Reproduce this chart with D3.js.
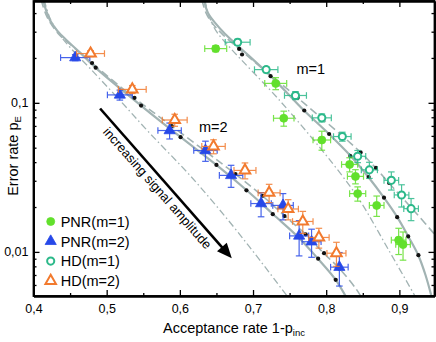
<!DOCTYPE html>
<html>
<head>
<meta charset="utf-8">
<script src="https://cdn.jsdelivr.net/npm/d3@7"></script>
<style>
  body { margin: 0; background: #fff; }
  svg { display: block; font-family: "Liberation Sans", Arial, sans-serif; }
  .axis path, .axis line { stroke: #000; }
  .axis text { font-size: 12.5px; fill: #000; }
</style>
</head>
<body>
<div id="chart"></div>
<script>
var svgWidth = 436;
var svgHeight = 342;

var margin = { top: 1, right: 1.5, bottom: 46, left: 33.5 };
var width = svgWidth - margin.left - margin.right;
var height = svgHeight - margin.top - margin.bottom;

// axis ticks
var xTicks = [0.4, 0.5, 0.6, 0.7, 0.8, 0.9];
var xTickLabels = ["0,4", "0,5", "0,6", "0,7", "0,8", "0,9"];
var xMinor = [0.45, 0.55, 0.65, 0.75, 0.85];
var yTicks = [0.01, 0.1];
var yTickLabels = ["0,01", "0,1"];
var yMinor = [0.006, 0.007, 0.008, 0.009, 0.02, 0.03, 0.04, 0.05, 0.06, 0.07, 0.08, 0.09, 0.2, 0.3, 0.4];

// PNR(m=1)
var pnr1X = [0.649, 0.731, 0.742, 0.794, 0.832, 0.840, 0.843, 0.869, 0.899, 0.905];
var pnr1Y = [0.231, 0.135, 0.0788, 0.0563, 0.0386, 0.0321, 0.0246, 0.0205, 0.0120, 0.0112];
var pnr1Xerr = [0.015, 0.015, 0.014, 0.012, 0.011, 0.011, 0.011, 0.010, 0.010, 0.010];
var pnr1Yerr = [0.0107, 0.0125, 0.0091, 0.0082, 0.0042, 0.0035, 0.0027, 0.0032, 0.0024, 0.0024];

// PNR(m=2)
var pnr2X = [0.457, 0.518, 0.586, 0.635, 0.670, 0.711, 0.741, 0.763, 0.780, 0.818];
var pnr2Y = [0.201, 0.113, 0.0652, 0.0479, 0.0326, 0.0211, 0.0205, 0.0128, 0.0117, 0.0079];
var pnr2Xerr = [0.020, 0.017, 0.016, 0.016, 0.016, 0.014, 0.014, 0.013, 0.013, 0.012];
var pnr2Yerr = [0.0093, 0.0087, 0.0080, 0.0074, 0.0055, 0.0039, 0.0041, 0.0034, 0.0025, 0.0020];

// HD(m=1)
var hd1X = [0.679, 0.718, 0.758, 0.794, 0.822, 0.843, 0.859, 0.889, 0.903, 0.916];
var hd1Y = [0.255, 0.167, 0.112, 0.0793, 0.0594, 0.0438, 0.0355, 0.0302, 0.0241, 0.0195];
var hd1Xerr = [0.017, 0.016, 0.015, 0.013, 0.012, 0.011, 0.011, 0.010, 0.010, 0.010];
var hd1Yerr = [0.0118, 0.0077, 0.0069, 0.0049, 0.0041, 0.0041, 0.0044, 0.0042, 0.0041, 0.0033];

// HD(m=2)
var hd2X = [0.478, 0.535, 0.593, 0.646, 0.689, 0.722, 0.748, 0.768, 0.790, 0.814];
var hd2Y = [0.214, 0.123, 0.0767, 0.0510, 0.0352, 0.0249, 0.0194, 0.0160, 0.0125, 0.0098];
var hd2Xerr = [0.019, 0.019, 0.017, 0.016, 0.015, 0.015, 0.014, 0.014, 0.014, 0.013];
var hd2Yerr = [0.0099, 0.0076, 0.0071, 0.0055, 0.0043, 0.0035, 0.0030, 0.0027, 0.0019, 0.0018];

// theory points (black dots)
var dots2X = [0.480, 0.485, 0.538, 0.547, 0.589, 0.601, 0.650, 0.676, 0.691, 0.713, 0.727, 0.743, 0.762, 0.772, 0.789, 0.797, 0.813, 0.818];
var dots2Y = [0.185, 0.172, 0.108, 0.0959, 0.0699, 0.0588, 0.0383, 0.0333, 0.0259, 0.0238, 0.0179, 0.0174, 0.0126, 0.0131, 0.0090, 0.0098, 0.0065, 0.0077];
var dots1X = [0.681, 0.685, 0.724, 0.761, 0.770, 0.804, 0.833, 0.847, 0.858, 0.868, 0.879, 0.886, 0.897, 0.912, 0.926];
var dots1Y = [0.230, 0.211, 0.151, 0.108, 0.0888, 0.0618, 0.0440, 0.0465, 0.0318, 0.0366, 0.0231, 0.0290, 0.0171, 0.0127, 0.0095];

// theory curves
var m2SolidX = [0.4132, 0.4173, 0.4228, 0.4324, 0.4460, 0.4637, 0.4851, 0.5469, 0.6012, 0.6499, 0.6913, 0.7274, 0.7615, 0.7888, 0.8130, 0.8290];
var m2SolidY = [0.49, 0.415, 0.356, 0.305, 0.261, 0.217, 0.1715, 0.0959, 0.0588, 0.0383, 0.0259, 0.0179, 0.0126, 0.0090, 0.0065, 0.0048];
var m2DashX = [0.4105, 0.4160, 0.4228, 0.4365, 0.4570, 0.4797, 0.5377, 0.5888, 0.6759, 0.7127, 0.7434, 0.7720, 0.7966, 0.8184, 0.8402, 0.8500];
var m2DashY = [0.49, 0.4025, 0.345, 0.282, 0.231, 0.185, 0.108, 0.0699, 0.0333, 0.0238, 0.0174, 0.0131, 0.0098, 0.0077, 0.0057, 0.0048];
var m2DotX = [0.4146, 0.4228, 0.4337, 0.4501, 0.4774, 0.5183, 0.5592, 0.6138, 0.6684, 0.7093, 0.7500];
var m2DotY = [0.49, 0.367, 0.296, 0.235, 0.170, 0.1036, 0.0623, 0.0326, 0.0158, 0.0088, 0.0048];
var m1SolidX = [0.6329, 0.6383, 0.6479, 0.6615, 0.6820, 0.7243, 0.7697, 0.8038, 0.8334, 0.8576, 0.8789, 0.8971, 0.9121, 0.9258, 0.9357, 0.9450];
var m1SolidY = [0.49, 0.4025, 0.345, 0.291, 0.235, 0.151, 0.0888, 0.0618, 0.0440, 0.0318, 0.0231, 0.0171, 0.0127, 0.0095, 0.0070, 0.0048];
var m1DashX = [0.6301, 0.6356, 0.6438, 0.6574, 0.6810, 0.7611, 0.8471, 0.8675, 0.8857, 0.9221, 0.9550];
var m1DashY = [0.49, 0.4025, 0.345, 0.291, 0.230, 0.108, 0.0465, 0.0366, 0.0290, 0.0184, 0.0120];
var m1DotX = [0.6343, 0.6397, 0.6493, 0.6684, 0.7365, 0.8088, 0.8457, 0.8853, 0.9240];
var m1DotY = [0.49, 0.384, 0.305, 0.235, 0.1036, 0.0392, 0.0222, 0.0103, 0.0048];

var svg = d3.select("#chart")
  .append("svg")
  .attr("width", svgWidth)
  .attr("height", svgHeight);

var chartGroup = svg.append("g")
  .attr("transform", `translate(${margin.left}, ${margin.top})`);

var xScale = d3.scaleLinear()
  .domain([0.4, 0.948])
  .range([0, width]);

var yScale = d3.scaleLog()
  .domain([0.00506, 0.482])
  .range([height, 0]);

chartGroup.append("clipPath")
  .attr("id", "clip")
  .append("rect")
  .attr("width", width)
  .attr("height", height);

// curves
var curveColor = "#a2b3b3";
var line = d3.line()
  .x(d => xScale(d[0]))
  .y(d => yScale(d[1]))
  .curve(d3.curveCatmullRom);

var curves = [
  { x: m2DotX, y: m2DotY, w: 1.3, dash: "7,3,1.5,3" },
  { x: m2DashX, y: m2DashY, w: 1.6, dash: "8,4" },
  { x: m2SolidX, y: m2SolidY, w: 2.2, dash: null },
  { x: m1DotX, y: m1DotY, w: 1.3, dash: "7,3,1.5,3" },
  { x: m1DashX, y: m1DashY, w: 1.6, dash: "8,4" },
  { x: m1SolidX, y: m1SolidY, w: 2.2, dash: null }
];

var curveGroup = chartGroup.append("g").attr("clip-path", "url(#clip)");
curves.forEach(function(c) {
  curveGroup.append("path")
    .datum(c.x.map((v, i) => [v, c.y[i]]))
    .attr("d", line)
    .attr("fill", "none")
    .attr("stroke", curveColor)
    .attr("stroke-width", c.w)
    .attr("stroke-dasharray", c.dash);
});

// black theory dots
[[dots2X, dots2Y], [dots1X, dots1Y]].forEach(function(s) {
  chartGroup.append("g")
    .selectAll("circle")
    .data(s[0].map((v, i) => [v, s[1][i]]))
    .enter()
    .append("circle")
    .attr("cx", d => xScale(d[0]))
    .attr("cy", d => yScale(d[1]))
    .attr("r", 2.1)
    .attr("fill", "#111");
});

// measured series
var series = [
  { x: pnr1X, y: pnr1Y, xe: pnr1Xerr, ye: pnr1Yerr, color: "#62e02c", shape: "circle", open: false, name: "PNR(m=1)" },
  { x: pnr2X, y: pnr2Y, xe: pnr2Xerr, ye: pnr2Yerr, color: "#2648e8", shape: "triangle", open: false, name: "PNR(m=2)" },
  { x: hd1X, y: hd1Y, xe: hd1Xerr, ye: hd1Yerr, color: "#2cb98a", shape: "circle", open: true, name: "HD(m=1)" },
  { x: hd2X, y: hd2Y, xe: hd2Xerr, ye: hd2Yerr, color: "#f27a2e", shape: "triangle", open: true, name: "HD(m=2)" }
];

function symbolPath(s) {
  var type = s.shape === "circle" ? d3.symbolCircle : d3.symbolTriangle;
  var size = s.shape === "circle" ? (s.open ? 40 : 50) : (s.open ? 48 : 54);
  return d3.symbol().type(type).size(size)();
}

series.forEach(function(s) {
  var pts = s.x.map((v, i) => ({ x: v, y: s.y[i], xe: s.xe[i], ye: s.ye[i] }));
  var g = chartGroup.append("g");
  var cap = 3.3;

  var bars = g.selectAll("g.err")
    .data(pts)
    .enter()
    .append("g")
    .attr("stroke", s.color)
    .attr("stroke-width", 1.2)
    .attr("opacity", 0.85);

  // horizontal bars
  bars.append("line")
    .attr("x1", d => xScale(d.x - d.xe))
    .attr("x2", d => xScale(d.x + d.xe))
    .attr("y1", d => yScale(d.y))
    .attr("y2", d => yScale(d.y));
  bars.append("line")
    .attr("x1", d => xScale(d.x - d.xe))
    .attr("x2", d => xScale(d.x - d.xe))
    .attr("y1", d => yScale(d.y) - cap)
    .attr("y2", d => yScale(d.y) + cap);
  bars.append("line")
    .attr("x1", d => xScale(d.x + d.xe))
    .attr("x2", d => xScale(d.x + d.xe))
    .attr("y1", d => yScale(d.y) - cap)
    .attr("y2", d => yScale(d.y) + cap);

  // vertical bars
  bars.append("line")
    .attr("x1", d => xScale(d.x))
    .attr("x2", d => xScale(d.x))
    .attr("y1", d => yScale(d.y + d.ye))
    .attr("y2", d => yScale(d.y - d.ye));
  bars.append("line")
    .attr("x1", d => xScale(d.x) - cap)
    .attr("x2", d => xScale(d.x) + cap)
    .attr("y1", d => yScale(d.y + d.ye))
    .attr("y2", d => yScale(d.y + d.ye));
  bars.append("line")
    .attr("x1", d => xScale(d.x) - cap)
    .attr("x2", d => xScale(d.x) + cap)
    .attr("y1", d => yScale(d.y - d.ye))
    .attr("y2", d => yScale(d.y - d.ye));

  g.selectAll("path.mark")
    .data(pts)
    .enter()
    .append("path")
    .attr("d", symbolPath(s))
    .attr("transform", d => `translate(${xScale(d.x)}, ${yScale(d.y)})`)
    .attr("fill", s.open ? "#fff" : s.color)
    .attr("stroke", s.color)
    .attr("stroke-width", s.open ? 2 : 0.8);
});

// axes
var xAxis = d3.axisBottom(xScale).tickValues(xTicks)
  .tickFormat((d, i) => xTickLabels[i]).tickSizeInner(-6).tickSizeOuter(0).tickPadding(8);
var xMinorAxis = d3.axisBottom(xScale).tickValues(xMinor).tickFormat("").tickSizeInner(-3).tickSizeOuter(0);
var yAxis = d3.axisLeft(yScale).tickValues(yTicks)
  .tickFormat((d, i) => yTickLabels[i]).tickSizeInner(-6).tickSizeOuter(0).tickPadding(5);
var yMinorAxis = d3.axisLeft(yScale).tickValues(yMinor).tickFormat("").tickSizeInner(-3).tickSizeOuter(0);

var axes = [
  [xAxis, `translate(0, ${height})`],
  [xMinorAxis, `translate(0, ${height})`],
  [d3.axisTop(xScale).tickValues(xTicks).tickFormat("").tickSizeInner(-6).tickSizeOuter(0), "translate(0,0)"],
  [d3.axisTop(xScale).tickValues(xMinor).tickFormat("").tickSizeInner(-3).tickSizeOuter(0), "translate(0,0)"],
  [yAxis, "translate(0,0)"],
  [yMinorAxis, "translate(0,0)"],
  [d3.axisRight(yScale).tickValues(yTicks).tickFormat("").tickSizeInner(-6).tickSizeOuter(0), `translate(${width},0)`],
  [d3.axisRight(yScale).tickValues(yMinor).tickFormat("").tickSizeInner(-3).tickSizeOuter(0), `translate(${width},0)`]
];
axes.forEach(function(a) {
  var g = chartGroup.append("g")
    .attr("class", "axis")
    .attr("transform", a[1])
    .call(a[0]);
  g.select(".domain").attr("stroke-width", 1.8);
  g.selectAll(".tick line").attr("stroke-width", 1.3);
});

// frame
chartGroup.append("rect")
  .attr("width", width)
  .attr("height", height)
  .attr("fill", "none")
  .attr("stroke", "#000")
  .attr("stroke-width", 1.8);

// annotations
chartGroup.append("text")
  .attr("x", xScale(0.7593))
  .attr("y", yScale(0.157))
  .style("font-size", "14.5px")
  .text("m=1");

chartGroup.append("text")
  .attr("x", xScale(0.626))
  .attr("y", yScale(0.0642))
  .style("font-size", "14.5px")
  .text("m=2");

// arrow "increasing signal amplitude"
var arrowStart = [0.491, 0.0916];
var arrowEnd = [0.671, 0.00906];
var ax1 = xScale(arrowStart[0]), ay1 = yScale(arrowStart[1]);
var ax2 = xScale(arrowEnd[0]), ay2 = yScale(arrowEnd[1]);
var angle = Math.atan2(ay2 - ay1, ax2 - ax1) * 180 / Math.PI;
var len = Math.hypot(ax2 - ax1, ay2 - ay1);

var arrow = chartGroup.append("g")
  .attr("transform", `translate(${ax1}, ${ay1}) rotate(${angle})`);
arrow.append("line")
  .attr("x1", 0).attr("y1", 0)
  .attr("x2", len - 12).attr("y2", 0)
  .attr("stroke", "#000")
  .attr("stroke-width", 2.6);
arrow.append("path")
  .attr("d", `M${len},0 L${len - 15},-6.5 L${len - 15},6.5 Z`)
  .attr("fill", "#000");
arrow.append("text")
  .attr("x", len / 2 - 2)
  .attr("y", 14)
  .attr("text-anchor", "middle")
  .style("font-size", "13px")
  .text("increasing signal amplitude");

// legend
var legend = chartGroup.append("g")
  .attr("transform", `translate(${50.7 - margin.left}, ${221.5 - margin.top})`);
series.forEach(function(s, i) {
  var row = legend.append("g").attr("transform", `translate(0, ${i * 19.8})`);
  row.append("path")
    .attr("d", symbolPath(s))
    .attr("fill", s.open ? "#fff" : s.color)
    .attr("stroke", s.color)
    .attr("stroke-width", s.open ? 2 : 0.8);
  row.append("text")
    .attr("x", 10)
    .attr("y", 5.2)
    .style("font-size", "14.5px")
    .text(s.name);
});

// axis titles
var yTitle = svg.append("text")
  .attr("transform", "translate(18, 156) rotate(-90)")
  .attr("text-anchor", "middle")
  .style("font-size", "14.5px");
yTitle.append("tspan").text("Error rate p");
yTitle.append("tspan").attr("dy", 3).style("font-size", "9.5px").text("E");

var xTitle = svg.append("text")
  .attr("x", 234)
  .attr("y", 333)
  .attr("text-anchor", "middle")
  .style("font-size", "14.5px");
xTitle.append("tspan").text("Acceptance rate 1-p");
xTitle.append("tspan").attr("dy", 3).style("font-size", "9.5px").text("inc");
</script>
</body>
</html>
